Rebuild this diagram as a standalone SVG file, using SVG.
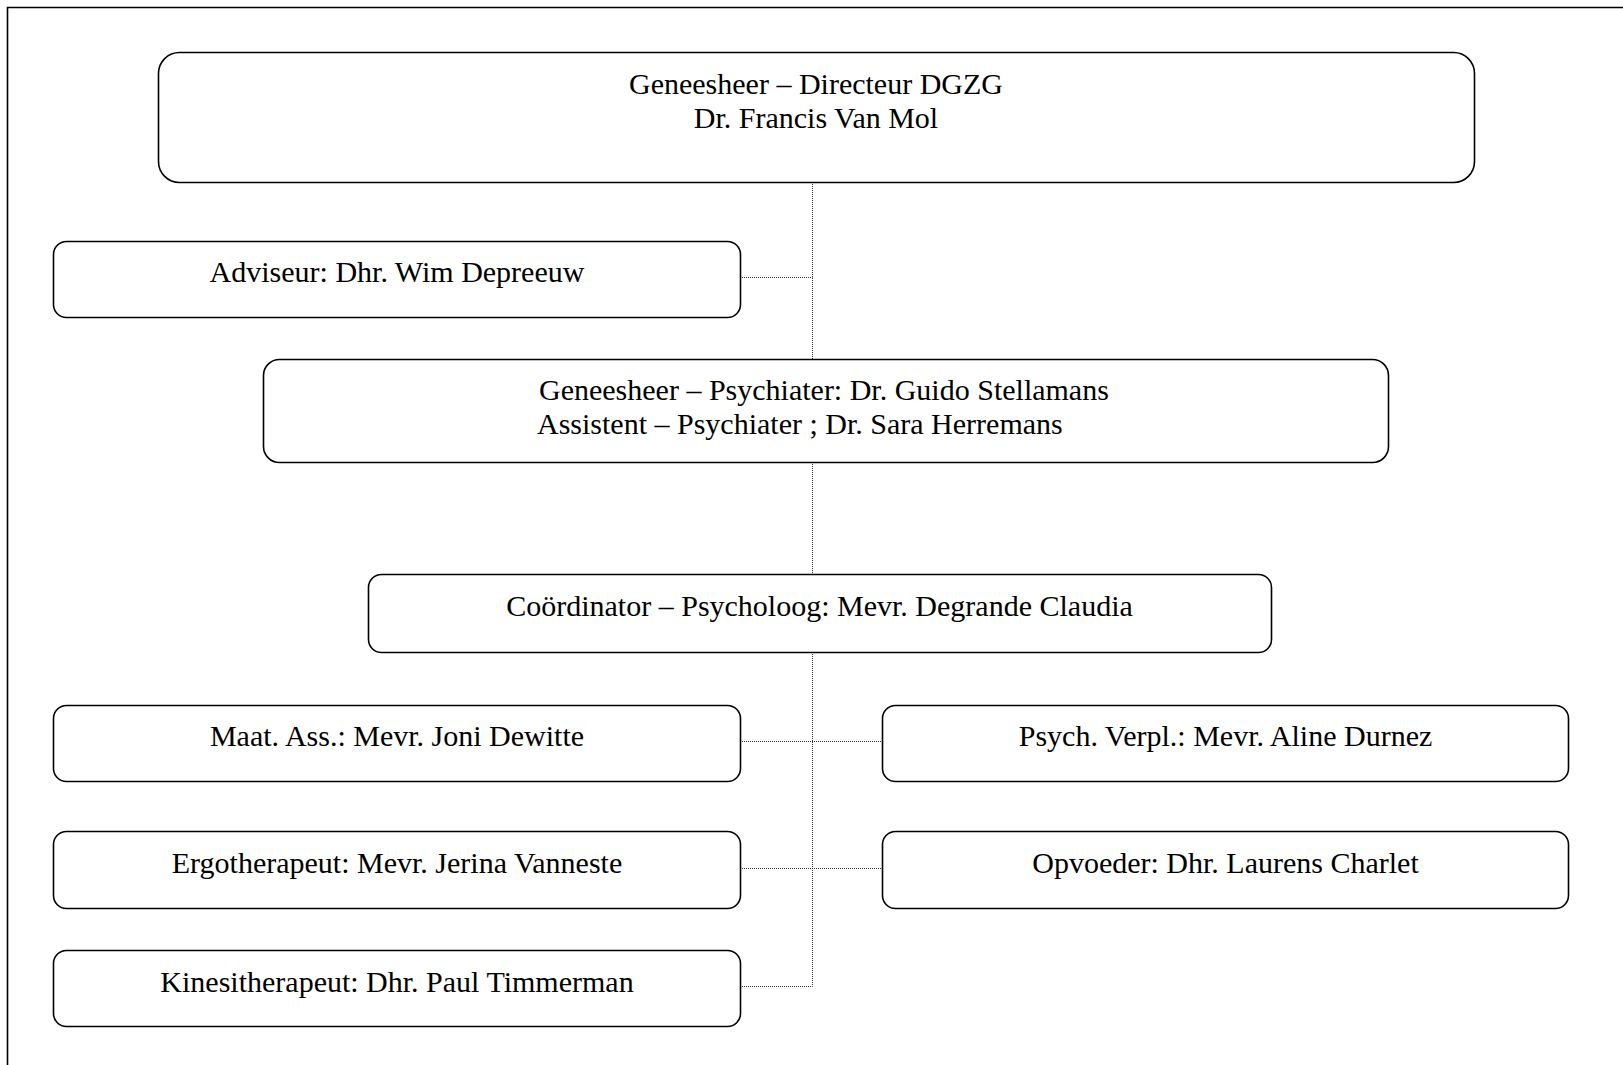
<svg xmlns="http://www.w3.org/2000/svg" width="1623" height="1065" viewBox="0 0 1623 1065">
<style>
.box{fill:#fff;stroke:#000;stroke-width:1.6}
.t{font-family:"Liberation Serif","Times New Roman",serif;font-size:30px;fill:#000;text-anchor:middle}
.c{fill:none;stroke:#333;stroke-width:1;stroke-dasharray:1 1}
</style>
<rect x="0" y="0" width="1623" height="1065" fill="#fff"/>
<path d="M7.5 1070 V7.5 H1630" fill="none" stroke="#000" stroke-width="1.6"/>
<g id="connectors">
<path class="c" d="M812.5 182 V359 M812.5 442 V574 M812.5 652 V986.5 H740"/>
<path class="c" d="M740 277.5 H812.5"/>
<path class="c" d="M740 741.5 H882"/>
<path class="c" d="M740 868.5 H882"/>
</g>
<g id="director">
<rect class="box" x="158.5" y="52.5" width="1316" height="130" rx="21"/>
<text class="t" x="816" y="94">Geneesheer – Directeur DGZG</text>
<text class="t" x="816" y="128">Dr. Francis Van Mol</text>
</g>
<g id="adviseur">
<rect class="box" x="53.5" y="241.5" width="687" height="76" rx="13"/>
<text class="t" x="397" y="282">Adviseur: Dhr. Wim Depreeuw</text>
</g>
<g id="psychiater">
<rect class="box" x="263.5" y="359.5" width="1125" height="103" rx="16"/>
<text class="t" x="539" y="400" style="text-anchor:start">Geneesheer – Psychiater: Dr. Guido Stellamans</text>
<text class="t" x="537" y="434" style="text-anchor:start">Assistent – Psychiater ; Dr. Sara Herremans</text>
</g>
<g id="coordinator">
<rect class="box" x="368.5" y="574.5" width="903" height="78" rx="13"/>
<text class="t" x="819.5" y="616">Coördinator – Psycholoog: Mevr. Degrande Claudia</text>
</g>
<g id="maat">
<rect class="box" x="53.5" y="705.5" width="687" height="76" rx="13"/>
<text class="t" x="397" y="746">Maat. Ass.: Mevr. Joni Dewitte</text>
</g>
<g id="psychverpl">
<rect class="box" x="882.5" y="705.5" width="686" height="76" rx="13"/>
<text class="t" x="1225.5" y="746">Psych. Verpl.: Mevr. Aline Durnez</text>
</g>
<g id="ergo">
<rect class="box" x="53.5" y="831.5" width="687" height="77" rx="13"/>
<text class="t" x="397" y="873">Ergotherapeut: Mevr. Jerina Vanneste</text>
</g>
<g id="opvoeder">
<rect class="box" x="882.5" y="831.5" width="686" height="77" rx="13"/>
<text class="t" x="1225.5" y="873">Opvoeder: Dhr. Laurens Charlet</text>
</g>
<g id="kine">
<rect class="box" x="53.5" y="950.5" width="687" height="76" rx="13"/>
<text class="t" x="397" y="992">Kinesitherapeut: Dhr. Paul Timmerman</text>
</g>
</svg>
